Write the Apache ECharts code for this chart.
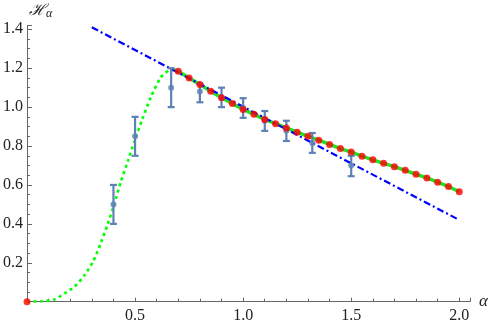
<!DOCTYPE html>
<html>
<head>
<meta charset="utf-8">
<script src="https://cdn.jsdelivr.net/npm/echarts@6/dist/echarts.min.js"></script>
<style>
  html, body { margin: 0; padding: 0; background: #fff; }
  #chart { width: 491px; height: 326px; }
</style>
</head>
<body>
<div id="chart"></div>
<script>
// measured points with error bars
const errX = [0.4, 0.5, 0.667, 0.8, 0.9, 1.0, 1.1, 1.2, 1.32, 1.5]
const errY = [0.5, 0.85, 1.1, 1.08, 1.05, 0.995, 0.93, 0.878, 0.815, 0.70]
const errLo = [0.4, 0.75, 1.0, 1.025, 1.0, 0.945, 0.878, 0.826, 0.765, 0.645]
const errHi = [0.6, 0.95, 1.2, 1.12, 1.1, 1.046, 0.98, 0.93, 0.867, 0.75]

// green dotted curve (rising part)
const riseX = [0, 0.067, 0.128, 0.174, 0.22, 0.266, 0.305, 0.343, 0.374, 0.404, 0.435, 0.466, 0.496, 0.534, 0.573, 0.619, 0.657, 0.667]
const riseY = [0, 0.002, 0.012, 0.043, 0.077, 0.136, 0.204, 0.306, 0.40, 0.502, 0.62, 0.72, 0.821, 0.94, 1.051, 1.153, 1.19, 1.195]

// red dots / green solid line
const dotX = [0.70, 0.75, 0.80, 0.85, 0.90, 0.95, 1.00, 1.05, 1.10, 1.15, 1.20, 1.25, 1.30, 1.35,
  1.40, 1.45, 1.50, 1.55, 1.60, 1.65, 1.70, 1.75, 1.80, 1.85, 1.90, 1.95, 2.00]
const dotY = [1.184, 1.15, 1.116, 1.082, 1.048, 1.019, 0.988, 0.963, 0.937, 0.915, 0.893, 0.871, 0.85, 0.83,
  0.808, 0.787, 0.769, 0.748, 0.729, 0.711, 0.694, 0.675, 0.655, 0.636, 0.614, 0.592, 0.565]

// blue dash-dot asymptote
const asymX = [0.3, 2.0]
const asymY = [1.41, 0.42]

const zip = (xs, ys) => xs.map((x, i) => [x, ys[i]])

const serif = 'Liberation Serif'
const axisColor = '#666'
const labelFont = { fontFamily: serif, fontSize: 16, color: '#222' }

const chart = echarts.init(document.getElementById('chart'), null, { renderer: 'canvas' })

chart.setOption({
  animation: false,
  grid: { left: 25.5, right: 20, top: 25.4, bottom: 24.3, containLabel: false },
  xAxis: {
    type: 'value', min: 0, max: 2.05, interval: 0.5,
    name: 'α', nameLocation: 'end', nameGap: 9,
    nameTextStyle: { fontFamily: serif, fontStyle: 'italic', fontSize: 17, color: '#222', verticalAlign: 'middle', padding: [0, 0, 6, 0] },
    axisLine: { lineStyle: { color: axisColor, width: 1 } },
    axisTick: { inside: true, length: 4, lineStyle: { color: axisColor } },
    minorTick: { show: true, splitNumber: 5, length: 3, lineStyle: { color: axisColor } },
    splitLine: { show: false },
    axisLabel: { ...labelFont, margin: 6, formatter: v => v === 0 ? '' : v.toFixed(1) }
  },
  yAxis: {
    type: 'value', min: 0, max: 1.42, interval: 0.2,
    name: '{h|ℋ}{s|α}', nameLocation: 'end', nameGap: 6,
    nameTextStyle: {
      align: 'left', padding: [0, 0, 0, 2],
      rich: {
        h: { fontFamily: 'DejaVu Serif', fontStyle: 'italic', fontSize: 16, color: '#222' },
        s: { fontFamily: serif, fontStyle: 'italic', fontSize: 12, color: '#222', verticalAlign: 'bottom', padding: [6, 0, 0, 0] }
      }
    },
    axisLine: { lineStyle: { color: axisColor, width: 1 } },
    axisTick: { inside: true, length: 5, lineStyle: { color: axisColor } },
    minorTick: { show: true, splitNumber: 4, length: 3, lineStyle: { color: axisColor } },
    splitLine: { show: false },
    axisLabel: { ...labelFont, margin: 4, formatter: v => (v === 0 || v > 1.41) ? '' : v.toFixed(1) }
  },
  series: [
    {
      type: 'line', data: zip(riseX, riseY), showSymbol: false, smooth: 0.2,
      lineStyle: { color: '#00ff00', width: 2.6, type: [3, 3.5], cap: 'butt' }, z: 2
    },
    {
      type: 'line', data: [[0.667, 1.195], ...zip(dotX, dotY)], showSymbol: false,
      lineStyle: { color: '#22e022', width: 3.5 }, z: 2
    },
    {
      type: 'line', data: zip(asymX, asymY), showSymbol: false,
      lineStyle: { color: '#0000ff', width: 2.2, type: [7, 3, 2, 3], cap: 'butt' }, z: 3
    },
    {
      type: 'custom', z: 4,
      data: errX.map((x, i) => [x, errY[i], errLo[i], errHi[i]]),
      renderItem: (params, api) => {
        const x = api.value(0)
        const top = api.coord([x, api.value(3)])
        const bot = api.coord([x, api.value(2)])
        const w = 3.5
        const style = { stroke: '#5e81b5', lineWidth: 2.2 }
        return {
          type: 'group',
          children: [
            { type: 'line', shape: { x1: top[0], y1: top[1], x2: bot[0], y2: bot[1] }, style },
            { type: 'line', shape: { x1: top[0] - w, y1: top[1], x2: top[0] + w, y2: top[1] }, style },
            { type: 'line', shape: { x1: bot[0] - w, y1: bot[1], x2: bot[0] + w, y2: bot[1] }, style }
          ]
        }
      }
    },
    {
      type: 'scatter', data: zip(errX, errY), symbolSize: 6,
      itemStyle: { color: '#5e81b5' }, z: 5
    },
    {
      type: 'scatter', data: [[0, 0], ...zip(dotX, dotY)], symbolSize: 7,
      itemStyle: { color: '#ff0000' }, z: 6
    }
  ]
})
</script>
</body>
</html>
